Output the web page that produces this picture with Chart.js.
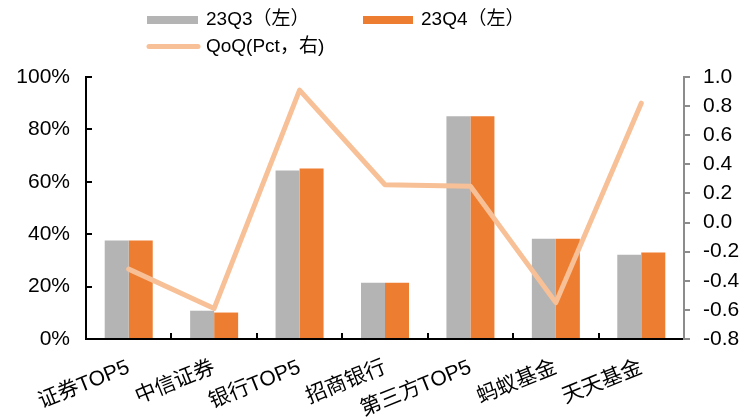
<!DOCTYPE html>
<html>
<head>
<meta charset="utf-8">
<script src="https://cdn.jsdelivr.net/npm/chart.js"></script>
<style>
  html, body { margin: 0; padding: 0; background: #fff; }
  #wrap { width: 741px; height: 418px; }
</style>
</head>
<body>
<div id="wrap"><canvas id="qoqChart" width="741" height="418"></canvas></div>
<script>
// kategorier och serier
const categories = ['证券TOP5', '中信证券', '银行TOP5', '招商银行', '第三方TOP5', '蚂蚁基金', '天天基金'];
const q3Values = [37.6, 10.8, 64.3, 21.5, 85.0, 38.3, 32.2];   // 23Q3 (%)
const q4Values = [37.6, 10.1, 65.1, 21.5, 85.0, 38.3, 33.0];   // 23Q4 (%)
const qoqValues = [-0.32, -0.59, 0.91, 0.26, 0.25, -0.55, 0.82]; // QoQ (pct)

const seriesLabels = ['23Q3（左）', '23Q4（左）', 'QoQ(Pct，右)'];
const leftTicks = [0, 20, 40, 60, 80, 100];
const rightTicks = [-0.8, -0.6, -0.4, -0.2, 0.0, 0.2, 0.4, 0.6, 0.8, 1.0];

const GRAY = '#B4B4B4';
const ORANGE = '#ED7D31';
const PEACH = '#F8C096';

Chart.defaults.font.family = '"Liberation Sans", "Noto Sans CJK SC", sans-serif';
Chart.defaults.color = '#000';

// Egen legend i två rader (som i originalet)
const twoRowLegend = {
    id: 'twoRowLegend',
    afterDraw(chart) {
        const ctx = chart.ctx;
        const ds = chart.data.datasets;
        ctx.save();
        ctx.font = '19px "Liberation Sans", "Noto Sans CJK SC", sans-serif';
        ctx.textBaseline = 'middle';

        ctx.fillStyle = ds[0].backgroundColor;
        ctx.fillRect(147, 16, 51, 8);
        ctx.fillStyle = '#000';
        ctx.fillText(ds[0].label, 206, 20);

        ctx.fillStyle = ds[1].backgroundColor;
        ctx.fillRect(363, 16, 50, 8);
        ctx.fillStyle = '#000';
        ctx.fillText(ds[1].label, 421, 20);

        ctx.strokeStyle = ds[2].borderColor;
        ctx.lineWidth = 5;
        ctx.lineCap = 'round';
        ctx.beginPath();
        ctx.moveTo(149, 46.5);
        ctx.lineTo(198, 46.5);
        ctx.stroke();
        ctx.fillStyle = '#000';
        ctx.fillText(ds[2].label, 206, 47);
        ctx.restore();
    }
};

new Chart(document.getElementById('qoqChart'), {
    data: {
        labels: categories,
        datasets: [
            {
                type: 'bar',
                label: seriesLabels[0],
                data: q3Values,
                backgroundColor: GRAY,
                yAxisID: 'y',
                order: 2,
                categoryPercentage: 0.562,
                barPercentage: 1.0
            },
            {
                type: 'bar',
                label: seriesLabels[1],
                data: q4Values,
                backgroundColor: ORANGE,
                yAxisID: 'y',
                order: 2,
                categoryPercentage: 0.562,
                barPercentage: 1.0
            },
            {
                type: 'line',
                label: seriesLabels[2],
                data: qoqValues,
                borderColor: PEACH,
                backgroundColor: PEACH,
                borderWidth: 5,
                borderCapStyle: 'round',
                borderJoinStyle: 'round',
                pointRadius: 0,
                tension: 0,
                yAxisID: 'y1',
                order: 0
            }
        ]
    },
    options: {
        responsive: false,
        animation: false,
        layout: { padding: { top: 77, left: 0, right: 0, bottom: 0 } },
        plugins: {
            legend: { display: false },
            tooltip: { enabled: false }
        },
        scales: {
            x: {
                grid: {
                    offset: true,
                    drawOnChartArea: false,
                    tickLength: -6,
                    color: '#000',
                    lineWidth: 2
                },
                border: { color: '#000', width: 2 },
                ticks: {
                    font: { size: 21 },
                    minRotation: 22,
                    maxRotation: 22,
                    padding: 22,
                    autoSkip: false
                },
                afterFit(scale) {
                    scale.height = 79;
                    scale.paddingLeft = 0;
                    scale.paddingRight = 0;
                }
            },
            y: {
                position: 'left',
                min: 0,
                max: 100,
                afterBuildTicks(scale) {
                    scale.ticks = leftTicks.map(v => ({ value: v }));
                },
                grid: {
                    drawOnChartArea: false,
                    tickLength: -6,
                    color: '#000',
                    lineWidth: 2
                },
                border: { color: '#000', width: 2 },
                ticks: {
                    font: { size: 21 },
                    padding: 22,
                    callback: v => v + '%'
                },
                afterFit(scale) {
                    scale.width = 86;
                }
            },
            y1: {
                position: 'right',
                min: -0.8,
                max: 1.0,
                afterBuildTicks(scale) {
                    scale.ticks = rightTicks.map(v => ({ value: v }));
                },
                grid: {
                    drawOnChartArea: false,
                    tickLength: 6,
                    color: '#8C8C8C',
                    lineWidth: 2
                },
                border: { color: '#8C8C8C', width: 2 },
                ticks: {
                    font: { size: 21 },
                    padding: 13,
                    callback: v => v.toFixed(1)
                },
                afterFit(scale) {
                    scale.width = 57;
                }
            }
        }
    },
    plugins: [twoRowLegend]
});
</script>
</body>
</html>
